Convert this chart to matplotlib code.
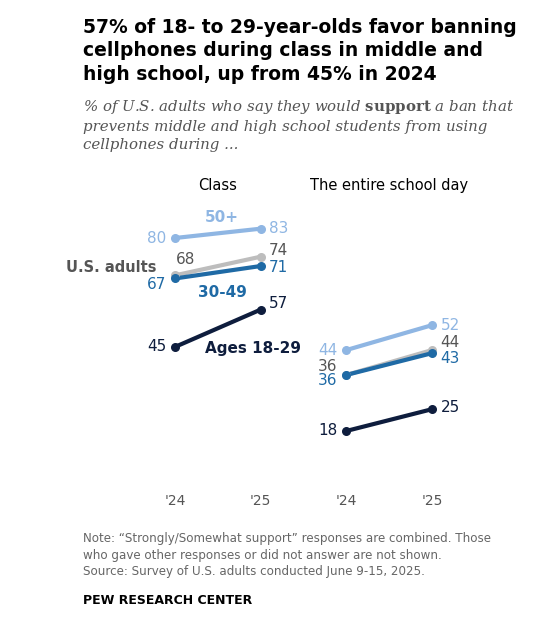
import matplotlib.pyplot as plt

plt.rcParams["mathtext.fontset"] = "dejavuserif"

years = ["'24", "'25"]
groups = ["50+", "U.S. adults", "30-49", "Ages 18-29"]
colors = ["#8fb6e3", "#bdbdbd", "#1f6aa5", "#0e1d3d"]
class_vals = [[80, 83], [68, 74], [67, 71], [45, 57]]
day_vals = [[44, 52], [36, 44], [36, 43], [18, 25]]

fig = plt.figure(figsize=(5.6, 6.3), dpi=100)
ax = fig.add_axes([115 / 560, 0.227, 377 / 560, 0.494])
ax.set_xlim(-0.7, 3.7)
ax.set_ylim(0, 100)
ax.axis("off")

for i, c in enumerate(colors):
    for off, vals in ((0, class_vals), (2, day_vals)):
        ax.plot([off, off + 1], vals[i], color=c, lw=3, zorder=2 if i == 1 else 3)
        ax.scatter([off, off + 1], vals[i], color=c, s=30, zorder=4)

label_col = [colors[0], "#555555", colors[2], colors[3]]

def lab(x, y, s, c, ha):
    ax.text(x, y, s, color=c, fontsize=11, ha=ha, va="center")

# Class panel
lab(-0.1, 80, "80", label_col[0], "right")
lab(0.12, 73.2, "68", label_col[1], "center")
lab(-0.1, 65, "67", label_col[2], "right")
lab(-0.1, 45, "45", label_col[3], "right")
lab(1.1, 83, "83", label_col[0], "left")
lab(1.1, 76, "74", label_col[1], "left")
lab(1.1, 70.5, "71", label_col[2], "left")
lab(1.1, 59, "57", label_col[3], "left")
# School day panel
lab(1.9, 44, "44", label_col[0], "right")
lab(1.9, 38.6, "36", label_col[1], "right")
lab(1.9, 34.2, "36", label_col[2], "right")
lab(1.9, 18, "18", label_col[3], "right")
lab(3.1, 52, "52", label_col[0], "left")
lab(3.1, 46.5, "44", label_col[1], "left")
lab(3.1, 41.3, "43", label_col[2], "left")
lab(3.1, 25.5, "25", label_col[3], "left")

ax.text(0.55, 86.5, "50+", color=colors[0], fontsize=11, fontweight="bold", ha="center", va="center")
ax.text(-0.22, 70.5, "U.S. adults", color="#555555", fontsize=10.5, fontweight="bold", ha="right", va="center")
ax.text(0.55, 62.4, "30-49", color=colors[2], fontsize=11, fontweight="bold", ha="center", va="center")
ax.text(0.35, 44.5, "Ages 18-29", color=colors[3], fontsize=11, fontweight="bold", ha="left", va="center")

ax.text(0.5, 97, "Class", fontsize=10.5, ha="center", va="center")
ax.text(2.5, 97, "The entire school day", fontsize=10.5, ha="center", va="center")
for off in (0, 2):
    for j, y in enumerate(years):
        ax.text(off + j, -4.5, y, fontsize=10, color="#555555", ha="center", va="center")

fig.text(83 / 560, 1 - 18 / 630,
         "57% of 18- to 29-year-olds favor banning\ncellphones during class in middle and\nhigh school, up from 45% in 2024",
         fontsize=13.5, fontweight="bold", va="top", linespacing=1.3)
fig.text(83 / 560, 1 - 98 / 630,
         "% of U.S. adults who say they would $\\mathbf{support}$ a ban that\nprevents middle and high school students from using\ncellphones during ...",
         fontsize=10.8, style="italic", color="#555555", va="top", family="DejaVu Serif", linespacing=1.35)
fig.text(83 / 560, 1 - 532 / 630,
         "Note: \u201cStrongly/Somewhat support\u201d responses are combined. Those\nwho gave other responses or did not answer are not shown.\nSource: Survey of U.S. adults conducted June 9-15, 2025.",
         fontsize=8.6, color="#666666", va="top", linespacing=1.35)
fig.text(83 / 560, 1 - 600 / 630, "PEW RESEARCH CENTER", fontsize=9, fontweight="bold", va="center")

fig.savefig("out.png", dpi=100)
